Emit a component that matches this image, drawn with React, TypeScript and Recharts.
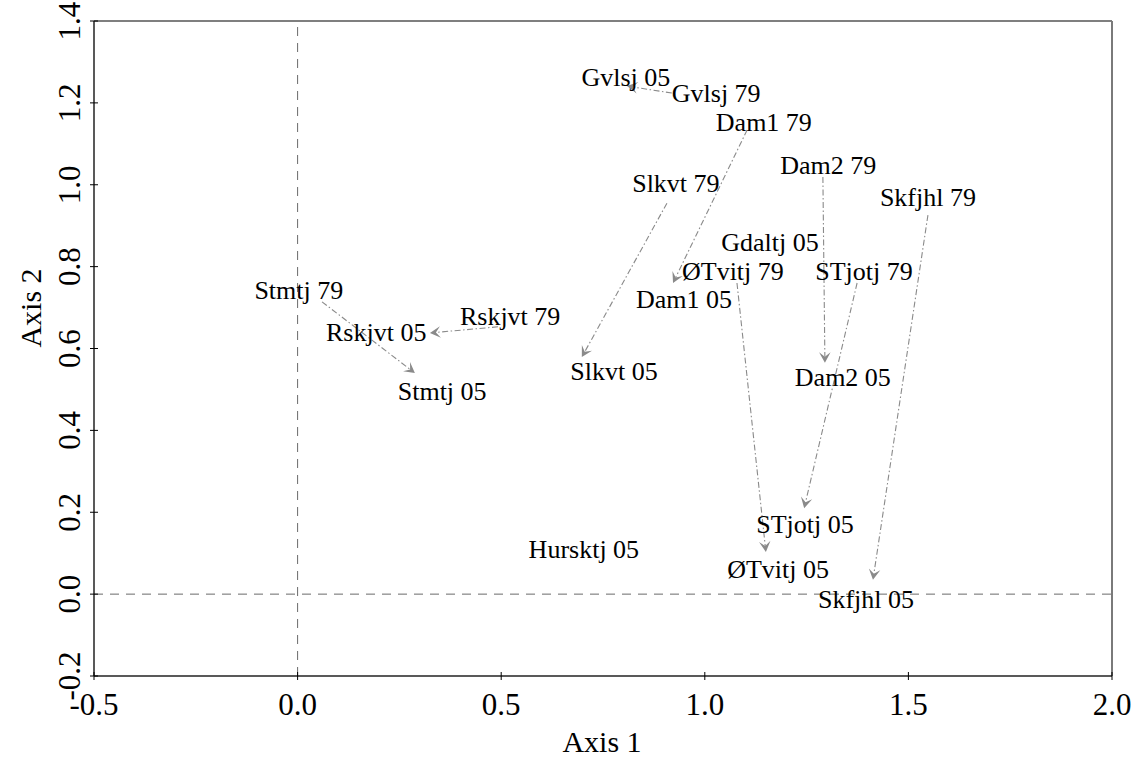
import { ScatterChart, Scatter, XAxis, YAxis, ReferenceLine } from "recharts";

// ordination scores: each site moves from its 1979 score to its 2005 score
const sites = ["Gvlsj", "Dam1", "Dam2", "Skfjhl", "STjotj", "ØTvitj", "Slkvt", "Stmtj", "Rskjvt"];
const axis1_79 = [0.919, 1.104, 1.29, 1.548, 1.374, 1.079, 0.907, 0.06, 0.492];
const axis2_79 = [1.224, 1.134, 1.019, 0.926, 0.76, 0.76, 0.955, 0.714, 0.653];
const axis1_05 = [0.809, 0.922, 1.295, 1.413, 1.244, 1.15, 0.698, 0.288, 0.325];
const axis2_05 = [1.241, 0.76, 0.565, 0.035, 0.21, 0.103, 0.579, 0.54, 0.638];

// site labels and where they are written, in axis units
const labelText = [
  "Gvlsj 05", "Gvlsj 79", "Dam1 79", "Dam2 79", "Skfjhl 79", "Slkvt 79", "Gdaltj 05",
  "ØTvitj 79", "STjotj 79", "Dam1 05", "Stmtj 79", "Rskjvt 79", "Rskjvt 05", "Slkvt 05",
  "Stmtj 05", "Dam2 05", "STjotj 05", "Hursktj 05", "ØTvitj 05", "Skfjhl 05",
];
const labelX = [
  0.806, 1.028, 1.145, 1.303, 1.548, 0.929, 1.16,
  1.069, 1.391, 0.949, 0.003, 0.522, 0.193, 0.777,
  0.355, 1.339, 1.246, 0.703, 1.18, 1.396,
];
const labelY = [
  1.263, 1.224, 1.153, 1.048, 0.968, 1.004, 0.86,
  0.787, 0.787, 0.719, 0.741, 0.679, 0.638, 0.545,
  0.494, 0.53, 0.169, 0.108, 0.061, -0.014,
];

const xTicks = [-0.5, 0, 0.5, 1, 1.5, 2];
const yTicks = [-0.2, 0, 0.2, 0.4, 0.6, 0.8, 1.0, 1.2, 1.4];

const FONT = "'Liberation Serif', 'Times New Roman', serif";
const ARROW = "#8a8a8a";

const labels = labelText.map((name, i) => ({ name, x: labelX[i], y: labelY[i] }));

function Arrow(props: any) {
  const { x1, y1, x2, y2 } = props;
  const a = Math.atan2(y2 - y1, x2 - x1);
  const len = 12;
  const spread = 0.5;
  const bx1 = x2 - len * Math.cos(a - spread);
  const by1 = y2 - len * Math.sin(a - spread);
  const bx2 = x2 - len * Math.cos(a + spread);
  const by2 = y2 - len * Math.sin(a + spread);
  const nx = x2 - 6 * Math.cos(a);
  const ny = y2 - 6 * Math.sin(a);
  return (
    <g>
      <line x1={x1} y1={y1} x2={nx} y2={ny} stroke={ARROW} strokeWidth={1.1} strokeDasharray="6 2.5 1.5 2.5" />
      <path d={`M${x2},${y2} L${bx1},${by1} L${nx},${ny} L${bx2},${by2} Z`} fill={ARROW} />
    </g>
  );
}

function XTick(props: any) {
  const { x, y, payload } = props;
  return (
    <g>
      <line x1={x} y1={y - 8} x2={x} y2={y - 4} stroke="#000" />
      <text x={x} y={y + 35} textAnchor="middle" fontSize={31} fontFamily={FONT} fill="#000">
        {payload.value.toFixed(1)}
      </text>
    </g>
  );
}

function YTick(props: any) {
  const { x, y, payload } = props;
  const tx = x - 10;
  return (
    <g>
      <line x1={x + 4} y1={y} x2={x + 8} y2={y} stroke="#000" />
      <text
        x={tx}
        y={y}
        textAnchor="middle"
        transform={`rotate(-90, ${tx}, ${y})`}
        fontSize={31}
        fontFamily={FONT}
        fill="#000"
      >
        {payload.value.toFixed(1)}
      </text>
    </g>
  );
}

function SiteLabel(props: any) {
  const { cx, cy, payload } = props;
  return (
    <text x={cx} y={cy} textAnchor="middle" dominantBaseline="central" fontSize={26} fontFamily={FONT} fill="#000">
      {payload.name}
    </text>
  );
}

export default function App() {
  return (
    <div style={{ position: "absolute", left: 0, top: 0, background: "#fff" }}>
      <ScatterChart width={1134} height={758} margin={{ top: 21, right: 22, left: 0, bottom: 0 }}>
        <XAxis
          type="number"
          dataKey="x"
          domain={[-0.5, 2]}
          ticks={xTicks}
          height={82}
          tickSize={4}
          tickMargin={0}
          tick={<XTick />}
          tickLine={{ stroke: "#000" }}
          axisLine={{ stroke: "#222", strokeWidth: 1.5 }}
          allowDataOverflow
        />
        <YAxis
          type="number"
          dataKey="y"
          domain={[-0.2, 1.4]}
          ticks={yTicks}
          width={94}
          tickSize={4}
          tickMargin={0}
          tick={<YTick />}
          tickLine={{ stroke: "#000" }}
          axisLine={{ stroke: "#222", strokeWidth: 1.5 }}
          allowDataOverflow
        />
        {/* frame top and right */}
        <ReferenceLine y={1.4} stroke="#555" strokeWidth={1.5} />
        <ReferenceLine x={2} stroke="#7a7a7a" strokeWidth={2} />
        <ReferenceLine x={0} stroke="#6a6a6a" strokeDasharray="9 7" />
        <ReferenceLine y={0} stroke="#6a6a6a" strokeDasharray="9 7" />
        {sites.map((s, i) => (
          <ReferenceLine
            key={s}
            segment={[
              { x: axis1_79[i], y: axis2_79[i] },
              { x: axis1_05[i], y: axis2_05[i] },
            ]}
            shape={<Arrow />}
          />
        ))}
        <Scatter data={labels} shape={<SiteLabel />} isAnimationActive={false} />
        <text x={602} y={752} textAnchor="middle" fontSize={30} fontFamily={FONT} fill="#000">
          Axis 1
        </text>
        <text
          x={41}
          y={308}
          textAnchor="middle"
          transform="rotate(-90, 41, 308)"
          fontSize={30}
          fontFamily={FONT}
          fill="#000"
        >
          Axis 2
        </text>
      </ScatterChart>
    </div>
  );
}
